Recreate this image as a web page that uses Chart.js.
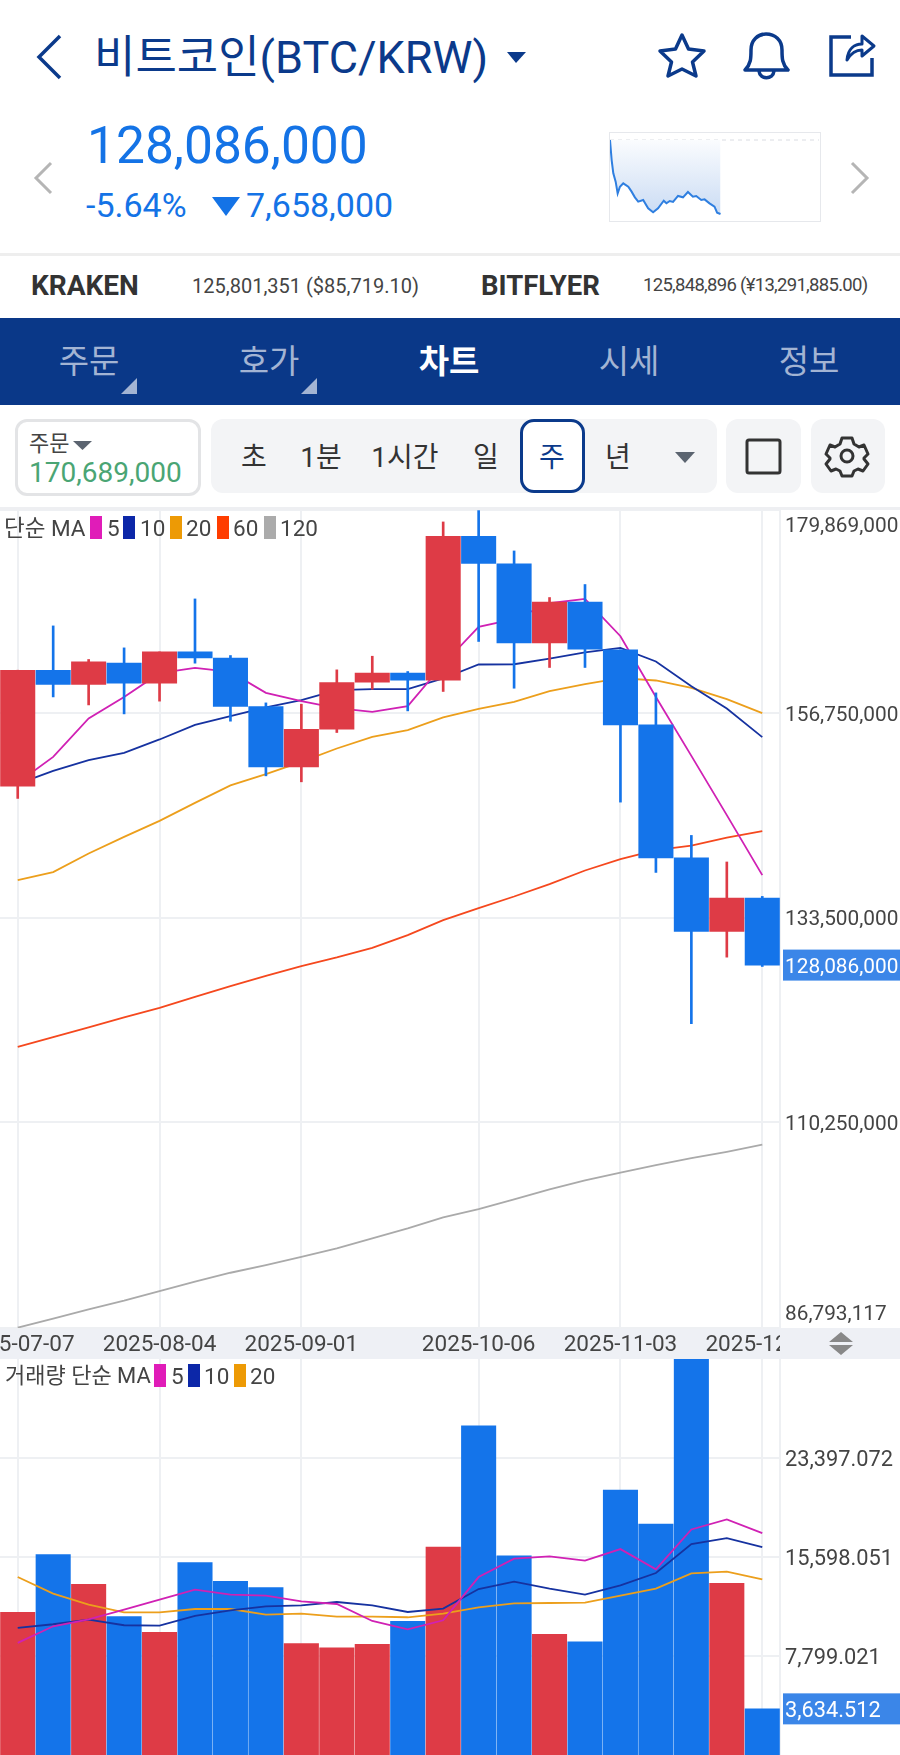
<!DOCTYPE html>
<html lang="ko">
<head>
<meta charset="utf-8">
<title>비트코인(BTC/KRW)</title>
<script src="https://cdn.jsdelivr.net/npm/chart.js@4"></script>
<style>
  html, body { margin: 0; padding: 0; background: #fff; }
  #page { position: relative; width: 900px; height: 1755px; overflow: hidden; background: #fff;
    font-family: Roboto, "Noto Sans CJK KR", sans-serif; color: #444; }
  #page > * { position: absolute; }
  .t { white-space: nowrap; line-height: 1; }
  .c { transform: translateX(-50%); }
  .nav { top: 345px; font-size: 33px; color: #a3b4d3; }
  .seg { top: 444px; font-size: 28px; color: #333; }
  .sw { width: 12px; height: 23px; }
  .lg { font-size: 22.5px; color: #444; }
  svg { overflow: visible; }
</style>
</head>
<body>
<div id="page">
  <!-- header -->
  <svg style="left:0;top:0" width="900" height="240" fill="none">
    <path d="M60 36 L39 57 L60 78" stroke="#0b3a8b" stroke-width="3.5"/>
    <path d="M507 52 H526 L516 63 Z" fill="#0b3a8b"/>
    <path d="M682 35 L688.500 49 L704 51 L692.500 62 L696 76 L682 69 L668 76 L671.500 62 L660 51 L675.500 49 Z" stroke="#0b3a8b" stroke-width="3.5" stroke-linejoin="round"/>
    <path d="M745 70 C751 64 751 58 751 50 C751 40 758 34 766 34 C775 34 782 40 782 50 C782 58 782 64 788 70 Z M759 71 C760 80 773 80 774 71" stroke="#0b3a8b" stroke-width="3.5" stroke-linejoin="round"/>
    <path d="M851 37 H831 V75 H872 V58" stroke="#0b3a8b" stroke-width="3.5"/>
    <path d="M847 60 C848 48 855 44 862 44 V36 L874 46 L862 56 V50 C856 50 851 53 847 60 Z" stroke="#0b3a8b" stroke-width="3" stroke-linejoin="round"/>
    <path d="M51 163 L36 178 L51 193" stroke="#b5b5b5" stroke-width="3"/>
    <path d="M852 163 L867 178 L852 193" stroke="#b5b5b5" stroke-width="3"/>
    <path d="M212 197 H240 L226 216 Z" fill="#1473e6"/>
  </svg>
  <div class="t" style="left:94px;top:35px;font-size:45px;color:#0b3a8b;">비트코인(BTC/KRW)</div>
  <div class="t" style="left:87px;top:120px;font-size:51.500px;color:#1473e6;">128,086,000</div>
  <div class="t" style="left:86px;top:188px;font-size:34px;color:#1473e6;">-5.64%</div>
  <div class="t" style="left:246px;top:188px;font-size:34px;color:#1473e6;">7,658,000</div>
  <div style="left:609px;top:132px;width:210px;height:88px;border:1px solid #e6e8ec;"></div>
  <canvas id="sparkChart" width="209" height="88" style="left:610px;top:133px"></canvas>

  <!-- other exchanges -->
  <div style="left:0;top:253px;width:900px;height:3px;background:#eeeeee"></div>
  <div class="t" style="left:31px;top:272px;font-size:28px;font-weight:700;color:#333;">KRAKEN</div>
  <div class="t" style="left:192px;top:276px;font-size:20px;color:#444;">125,801,351 ($85,719.10)</div>
  <div class="t" style="left:481px;top:272px;font-size:27.500px;font-weight:700;color:#333;">BITFLYER</div>
  <div class="t" style="left:643px;top:276px;font-size:18.500px;letter-spacing:-0.7px;color:#444;">125,848,896 (¥13,291,885.00)</div>

  <!-- tab bar -->
  <div style="left:0;top:318px;width:900px;height:87px;background:#0a3888"></div>
  <div class="t c nav" style="left:89px">주문</div>
  <div class="t c nav" style="left:269px">호가</div>
  <div class="t c nav" style="left:449px;color:#fff;font-weight:700">차트</div>
  <div class="t c nav" style="left:629px">시세</div>
  <div class="t c nav" style="left:809px">정보</div>
  <svg style="left:0;top:370px" width="340" height="30">
    <path d="M137 8 V24 H121 Z M317 8 V24 H301 Z" fill="#a3b4d3"/>
  </svg>

  <!-- toolbar -->
  <div style="left:15px;top:419px;width:180px;height:71px;border:3px solid #e3e4e6;border-radius:12px"></div>
  <div class="t" style="left:29px;top:433px;font-size:22px;color:#444">주문</div>
  <svg style="left:72px;top:440px" width="22" height="12"><path d="M1 1 H20 L10.500 10 Z" fill="#5b6470"/></svg>
  <div class="t" style="left:29px;top:459px;font-size:28px;color:#4aa574">170,689,000</div>
  <div style="left:211px;top:419px;width:506px;height:74px;background:#f3f4f6;border-radius:12px"></div>
  <div style="left:520px;top:419px;width:59px;height:68px;background:#fff;border:3px solid #0b3a8b;border-radius:14px"></div>
  <div class="t c seg" style="left:254px">초</div>
  <div class="t c seg" style="left:321px">1분</div>
  <div class="t c seg" style="left:405px">1시간</div>
  <div class="t c seg" style="left:486px">일</div>
  <div class="t c seg" style="left:552px;color:#0b3a8b">주</div>
  <div class="t c seg" style="left:618px">년</div>
  <div style="left:726px;top:419px;width:75px;height:74px;background:#f3f4f6;border-radius:12px"></div>
  <div style="left:811px;top:419px;width:74px;height:74px;background:#f3f4f6;border-radius:12px"></div>
  <svg style="left:0;top:419px" width="900" height="74" fill="none">
    <path d="M675 33 H695 L685 44 Z" fill="#5b6470"/>
    <rect x="747" y="21" width="33" height="33" rx="2" stroke="#333" stroke-width="3"/>
    <g transform="translate(847 37)" stroke="#333" stroke-width="3" stroke-linejoin="round">
      <circle r="6"/>
      <path d="M-5 -18 H5 L7 -12 L12 -9 L17 -11 L21 -2 L17 2 L17 3 L21 8 L16 15 L11 13 L7 15 L5 20 H-5 L-7 15 L-11 13 L-16 15 L-21 8 L-17 3 L-17 2 L-21 -2 L-17 -11 L-12 -9 L-7 -12 Z"/>
    </g>
  </svg>

  <!-- price pane -->
  <div style="left:0;top:507px;width:900px;height:3px;background:#eeeff2"></div>
  <div style="left:0;top:1328px;width:900px;height:31px;background:#eef0f5"></div>
  <canvas id="priceChart" width="900" height="849" style="left:0;top:510px"></canvas>
  <div style="left:780px;top:1328px;width:120px;height:31px;background:#eef0f5"></div>
  <svg style="left:828px;top:1331px" width="26" height="25"><path d="M13 1 L25 11 H1 Z M1 14 H25 L13 24 Z" fill="#888"/></svg>

  <div class="t lg" style="left:4px;top:517px">단순 MA</div>
  <div class="sw" style="left:90px;top:516px;background:#e01cb8"></div>
  <div class="t lg" style="left:107px;top:517px">5</div>
  <div class="sw" style="left:123px;top:516px;background:#0c27a8"></div>
  <div class="t lg" style="left:140px;top:517px">10</div>
  <div class="sw" style="left:170px;top:516px;background:#ed9a05"></div>
  <div class="t lg" style="left:186px;top:517px">20</div>
  <div class="sw" style="left:217px;top:516px;background:#ff3d00"></div>
  <div class="t lg" style="left:233px;top:517px">60</div>
  <div class="sw" style="left:264px;top:516px;background:#ababab"></div>
  <div class="t lg" style="left:280px;top:517px">120</div>

  <!-- volume pane -->
  <canvas id="volumeChart" width="900" height="396" style="left:0;top:1359px"></canvas>
  <div class="t lg" style="left:5px;top:1365px;font-size:22px">거래량 단순 MA</div>
  <div class="sw" style="left:154px;top:1364px;background:#e01cb8"></div>
  <div class="t lg" style="left:171px;top:1365px">5</div>
  <div class="sw" style="left:188px;top:1364px;background:#0c27a8"></div>
  <div class="t lg" style="left:204px;top:1365px">10</div>
  <div class="sw" style="left:234px;top:1364px;background:#ed9a05"></div>
  <div class="t lg" style="left:250px;top:1365px">20</div>
</div>

<script>
// weekly candles, prices in millions of KRW
const weeks = ['2025-07-07', '2025-07-14', '2025-07-21', '2025-07-28', '2025-08-04', '2025-08-11', '2025-08-18', '2025-08-25',
  '2025-09-01', '2025-09-08', '2025-09-15', '2025-09-22', '2025-09-29', '2025-10-06', '2025-10-13', '2025-10-20', '2025-10-27',
  '2025-11-03', '2025-11-10', '2025-11-17', '2025-11-24', '2025-12-01'];
const labelledWeeks = ['2025-07-07', '2025-08-04', '2025-09-01', '2025-10-06', '2025-11-03', '2025-12-01'];

const opens = [148.45, 161.64, 160.01, 162.44, 160.16, 163.72, 163.01, 157.51, 150.64, 154.93, 160.28, 161.30, 160.50, 176.88, 173.73, 164.75, 169.38, 163.95, 155.42, 140.29, 131.91, 135.71];
const closes = [161.64, 160.01, 162.59, 160.16, 163.72, 163.04, 157.51, 150.64, 154.90, 160.24, 161.30, 160.50, 176.88, 173.78, 164.75, 169.38, 164.03, 155.42, 140.29, 131.91, 135.71, 128.086];
const highs = [161.64, 166.68, 162.86, 164.18, 163.72, 169.75, 163.31, 157.92, 157.77, 161.68, 163.23, 161.49, 178.51, 179.80, 175.21, 169.91, 171.39, 163.95, 159.06, 142.84, 139.82, 135.90];
const lows = [147.05, 158.60, 157.69, 156.67, 158.12, 162.44, 155.84, 149.62, 148.94, 154.55, 159.48, 157.01, 159.22, 164.91, 159.59, 161.95, 161.95, 146.63, 138.63, 121.42, 128.99, 127.93];

const ma5 = [148.83, 151.78, 156.15, 158.60, 161.30, 161.90, 161.45, 159.06, 158.12, 157.32, 156.90, 157.55, 162.32, 166.57, 167.44, 169.26, 169.75, 165.51, 158.60, 151.89, 145.15, 138.32];
const ma10 = [148.70, 150.19, 151.40, 152.23, 153.76, 155.42, 156.41, 157.40, 158.23, 159.37, 159.48, 159.48, 160.70, 162.29, 162.32, 162.97, 163.66, 164.18, 162.63, 159.82, 157.28, 154.02];
const ma20 = [137.75, 138.66, 140.79, 142.68, 144.50, 146.55, 148.53, 149.81, 151.21, 152.73, 154.05, 154.82, 156.26, 157.24, 158.04, 159.25, 160.05, 160.73, 160.47, 159.63, 158.34, 156.75];
const ma60 = [118.79, 119.90, 120.99, 122.13, 123.23, 124.48, 125.70, 126.87, 127.97, 128.96, 130.05, 131.50, 133.20, 134.58, 135.89, 137.31, 138.85, 140.15, 141.17, 141.69, 142.59, 143.33];
const ma120 = [86.83, 87.87, 88.92, 89.90, 91.00, 92.06, 93.08, 93.96, 94.90, 95.86, 97.00, 98.13, 99.39, 100.33, 101.43, 102.57, 103.58, 104.48, 105.33, 106.11, 106.84, 107.66];

const priceTicks = [86.793117, 110.25, 133.5, 156.75, 179.869];
const priceTickLabels = ['86,793,117', '110,250,000', '133,500,000', '156,750,000', '179,869,000'];

const volumes = [11243, 15779, 13444, 10905, 9670, 15150, 13680, 13185, 8782, 8436, 8727, 10535, 16376, 25940, 15700, 9513, 8908, 20875, 18185, 32500, 13523, 3634.512];
const volMa5 = [8829, 10142, 10692, 11455, 12241, 13027, 12634, 12556, 12107, 11895, 10559, 9906, 10614, 14018, 15465, 15645, 15307, 16220, 14623, 17768, 18554, 17477];
const volMa10 = [10008, 10299, 10669, 10221, 10197, 10952, 11400, 11714, 11793, 12052, 11793, 11266, 11533, 13074, 13656, 13106, 12634, 13365, 14332, 16612, 17084, 16376];
const volMa20 = [14018, 12713, 11848, 11243, 11243, 11502, 11502, 11062, 11141, 10905, 10905, 10850, 11141, 11636, 11950, 11974, 12005, 12556, 13106, 14309, 14442, 13837];
const volTicks = [7799.021, 15598.051, 23397.072];
const volTickLabels = ['7,799.021', '15,598.051', '23,397.072'];

// small intraday line in the header
const sparkHours = [0, 0.19, 0.38, 0.65, 0.88, 1.14, 1.52, 2.1, 2.48, 2.86, 3.24, 3.81, 4.38, 4.95, 5.52, 6.17, 6.48, 6.86, 7.24, 7.81, 8.38, 8.95, 9.52, 9.9, 10.48, 10.86, 11.43, 12, 12.3, 12.69];
const sparkPrices = [135.74, 133.67, 132.29, 131.43, 130.22, 130.91, 131.26, 130.91, 130.40, 129.81, 129.36, 129.53, 128.67, 128.26, 128.67, 129.46, 129.19, 129.43, 129.33, 129.95, 129.81, 130.36, 129.88, 129.95, 129.53, 129.60, 129.19, 128.84, 128.22, 128.086];
const sparkOpen = 135.744;

const UP = '#de3b46';
const DOWN = '#1474ea';
const GRID = '#eef0f3';
const FONT_FAMILY = 'Roboto, "Noto Sans CJK KR", sans-serif';

Chart.defaults.animation = false;
Chart.defaults.responsive = false;
Chart.defaults.plugins.legend.display = false;
Chart.defaults.plugins.tooltip.enabled = false;

const candleColors = opens.map((o, i) => (closes[i] >= o ? UP : DOWN));

// box with the current value at the right edge
const lastValueTag = {
  id: 'lastValueTag',
  afterDraw(chart, args, opts) {
    const y = chart.scales.y.getPixelForValue(opts.value);
    const ctx = chart.ctx;
    ctx.save();
    ctx.fillStyle = '#3b86e8';
    ctx.fillRect(783, y - 15.5, 117, 31);
    ctx.fillStyle = '#fff';
    ctx.font = opts.size + 'px Roboto';
    ctx.textBaseline = 'middle';
    ctx.fillText(opts.label, 785, y + 3);
    ctx.restore();
  }
};

function maLine(data, color, order) {
  return { type: 'line', data, borderColor: color, borderWidth: 1.8, pointRadius: 0, tension: 0, order };
}

// a blank extra line nudges a tick label off its gridline, the line height sets how far
function yAxis(ticks, labels, min, max, size) {
  const nudge = { first: min > 0 ? 26 : 5, last: min > 0 ? 34 : 5, other: 5 };
  return {
    position: 'right',
    min,
    max,
    afterBuildTicks: s => { s.ticks = ticks.map(value => ({ value })); },
    afterFit: s => { s.width = 120; s.paddingTop = 0; s.paddingBottom = 0; },
    grid: { color: GRID, lineWidth: 2, drawTicks: false },
    border: { display: true, color: GRID, width: 2 },
    ticks: {
      callback: (v, i) => ((i === 0 && min > 0) ? [labels[i], ''] : ['', labels[i]]),
      crossAlign: 'near',
      padding: 5,
      color: '#444',
      autoSkip: false,
      font: c => ({
        family: FONT_FAMILY,
        size,
        lineHeight: (c.index === 0 ? nudge.first : c.index === ticks.length - 1 ? nudge.last : nudge.other) + 'px'
      })
    }
  };
}

new Chart(document.getElementById('priceChart'), {
  type: 'bar',
  data: {
    labels: weeks,
    datasets: [
      { data: opens.map((o, i) => [o, closes[i]]), backgroundColor: candleColors, barThickness: 34.4, grouped: false, order: 1 },
      { data: lows.map((l, i) => [l, highs[i]]), backgroundColor: candleColors, barThickness: 2, grouped: false, order: 2 },
      maLine(ma5, '#d021b4', 3),
      maLine(ma10, '#1632a0', 4),
      maLine(ma20, '#ec9f1c', 5),
      maLine(ma60, '#f5481e', 6),
      maLine(ma120, '#aaaaaa', 7)
    ]
  },
  options: {
    layout: { padding: 0 },
    scales: {
      x: {
        offset: true,
        afterBuildTicks: s => { s.ticks = s.ticks.filter(t => labelledWeeks.includes(weeks[t.value])); },
        afterFit: s => { s.height = 31; s.paddingLeft = 0; s.paddingRight = 0; },
        grid: { offset: false, color: GRID, lineWidth: 2, drawTicks: false },
        border: { display: false },
        ticks: { autoSkip: false, maxRotation: 0, minRotation: 0, padding: 4, color: '#444', font: { family: FONT_FAMILY, size: 22.5 } }
      },
      y: yAxis(priceTicks, priceTickLabels, 86.793117, 179.869, 20.8)
    },
    plugins: { lastValueTag: { value: closes[closes.length - 1], label: '128,086,000', size: 20.8 } }
  },
  plugins: [lastValueTag]
});

new Chart(document.getElementById('volumeChart'), {
  type: 'bar',
  data: {
    labels: weeks,
    datasets: [
      { data: volumes, backgroundColor: candleColors, barThickness: 34.4, order: 4 },
      maLine(volMa5, '#d021b4', 1),
      maLine(volMa10, '#1632a0', 2),
      maLine(volMa20, '#ec9f1c', 3)
    ]
  },
  options: {
    layout: { padding: 0 },
    scales: {
      x: {
        offset: true,
        afterBuildTicks: s => { s.ticks = s.ticks.filter(t => labelledWeeks.includes(weeks[t.value])); },
        afterFit: s => { s.height = 0; s.paddingLeft = 0; s.paddingRight = 0; },
        grid: { offset: false, color: GRID, lineWidth: 2, drawTicks: false },
        border: { display: false },
        ticks: { display: false, autoSkip: false }
      },
      y: yAxis(volTicks, volTickLabels, 0, 31196, 21.8)
    },
    plugins: { lastValueTag: { value: volumes[volumes.length - 1], label: '3,634.512', size: 21.8 } }
  },
  plugins: [lastValueTag]
});

new Chart(document.getElementById('sparkChart'), {
  type: 'line',
  data: {
    datasets: [
      {
        data: sparkHours.map((x, i) => ({ x, y: sparkPrices[i] })),
        borderColor: '#2f7fe0',
        borderWidth: 2,
        pointRadius: 0,
        tension: 0,
        fill: { value: sparkOpen },
        backgroundColor: ctx => {
          const area = ctx.chart.chartArea;
          if (!area) return 'transparent';
          const g = ctx.chart.ctx.createLinearGradient(0, area.top, 0, area.bottom);
          g.addColorStop(0, '#ffffff');
          g.addColorStop(1, '#c6d9f3');
          return g;
        }
      },
      {
        data: [{ x: 0, y: sparkOpen }, { x: 24, y: sparkOpen }],
        borderColor: '#e6e8ec',
        borderWidth: 1.5,
        borderDash: [4, 4],
        pointRadius: 0
      }
    ]
  },
  options: {
    layout: { padding: 0 },
    scales: {
      x: { type: 'linear', display: false, min: 0, max: 24 },
      y: { display: false, min: 127.36, max: 136.47 }
    }
  }
});
</script>
</body>
</html>
